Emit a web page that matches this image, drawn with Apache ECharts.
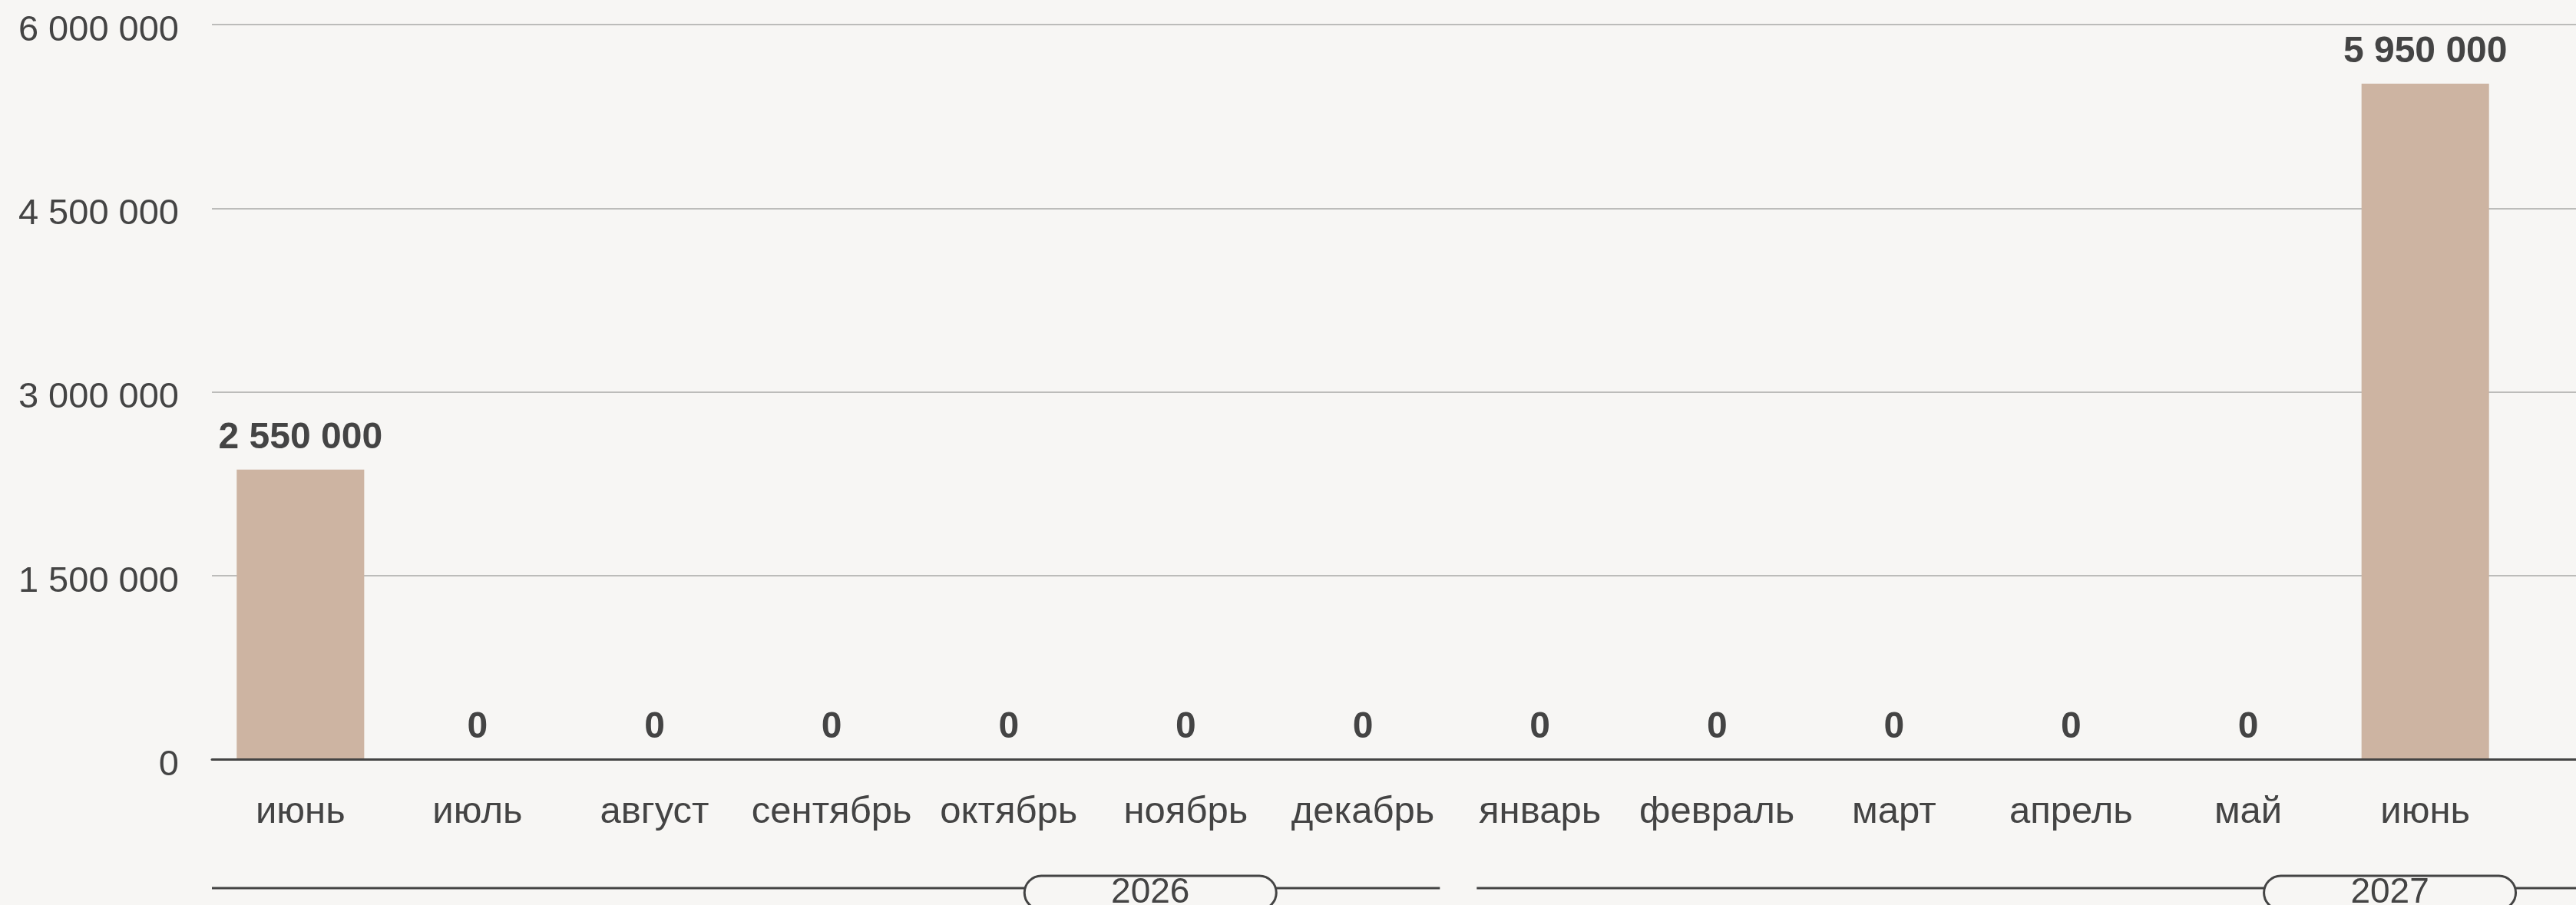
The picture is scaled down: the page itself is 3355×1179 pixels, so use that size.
<!DOCTYPE html>
<html>
<head>
<meta charset="utf-8">
<script src="https://cdn.jsdelivr.net/npm/echarts@6/dist/echarts.min.js"></script>
<style>
html,body{margin:0;padding:0;background:#f7f6f4;}
#chart{width:3355px;height:1179px;}
</style>
</head>
<body>
<div id="chart"></div>
<script>
const categories = ['июнь','июль','август','сентябрь','октябрь','ноябрь','декабрь','январь','февраль','март','апрель','май','июнь'];
const values = [2550000,0,0,0,0,0,0,0,0,0,0,0,5950000];
const yMin = 0, yMax = 6000000, yInterval = 1500000;
const years = ['2026','2027'];
const yearStartIndex = [0,7];
const yearEndIndex = [6,12];

const FONT = "'Liberation Sans', Arial, sans-serif";
const TEXT = '#444444';
const BG = '#f7f6f4';
function fmt(v){ return String(v).replace(/\B(?=(\d{3})+(?!\d))/g,' '); }

const chart = echarts.init(document.getElementById('chart'), null, {renderer:'canvas'});
const option = {
  backgroundColor: BG,
  animation: false,
  textStyle: {fontFamily: FONT},
  grid: [
    {left: 276, right: 81, top: 32, bottom: 190},
    {left: 276, right: 0, top: 32, bottom: 190}
  ],
  xAxis: [
    {type:'category', gridIndex:0, data: categories,
     axisLine:{show:false}, axisTick:{show:false},
     axisLabel:{color:TEXT, fontSize:49, fontFamily:FONT, margin:45, interval:0}},
    {type:'category', gridIndex:1, data:[''], z:3,
     axisLine:{show:true, lineStyle:{color:'#444444', width:3}},
     axisTick:{show:false}, axisLabel:{show:false}}
  ],
  yAxis: [
    {type:'value', gridIndex:0, min:0, max:6470000, show:false, splitLine:{show:false}},
    {type:'value', gridIndex:1, min:yMin, max:yMax, interval:yInterval,
     axisLine:{show:false}, axisTick:{show:false},
     splitLine:{show:true, lineStyle:{color:'#bcbcba', width:2}},
     axisLabel:{color:TEXT, fontSize:47, fontFamily:FONT, margin:43, verticalAlign:'top', lineHeight:16, formatter: fmt}}
  ],
  series: [{
    type:'bar', xAxisIndex:0, yAxisIndex:0, data: values,
    barWidth:'72%',
    itemStyle:{color:'#cdb4a2'},
    label:{show:true, position:'top', distance:17, color:TEXT, fontSize:48, fontWeight:'bold', fontFamily:FONT,
      formatter: p => fmt(p.value)}
  }]
};
chart.setOption(option);

// year brackets
const px = i => chart.convertToPixel({xAxisIndex:0}, i);
const step = px(1) - px(0);
const pillAt = [4.8, 11.8];
const gridLeft = 276, fullRight = 3355, lineY = 1157;
const elems = [];
years.forEach((yr, k) => {
  let x0, x1;
  if (k === 0) { x0 = gridLeft; } else { x0 = (px(yearStartIndex[k]-1)+px(yearStartIndex[k]))/2 + 33; }
  if (k === years.length-1) { x1 = fullRight; } else { x1 = (px(yearEndIndex[k])+px(yearEndIndex[k]+1))/2 - 15; }
  elems.push({type:'line', shape:{x1:x0, y1:lineY, x2:x1, y2:lineY}, style:{stroke:'#444444', lineWidth:3}, z:10});
  const cx = px(0) + pillAt[k]*step;
  const w = 328, h = 44;
  elems.push({type:'rect', shape:{x:cx-w/2, y:1141, width:w, height:h, r:22},
    style:{fill:BG, stroke:'#444444', lineWidth:3}, z:11});
  elems.push({type:'text', x:cx, y:1163, z:12,
    style:{text:yr, fill:TEXT, fontSize:46, fontFamily:FONT, align:'center', verticalAlign:'middle'}});
});
chart.setOption({graphic:{elements:elems}});
</script>
</body>
</html>
